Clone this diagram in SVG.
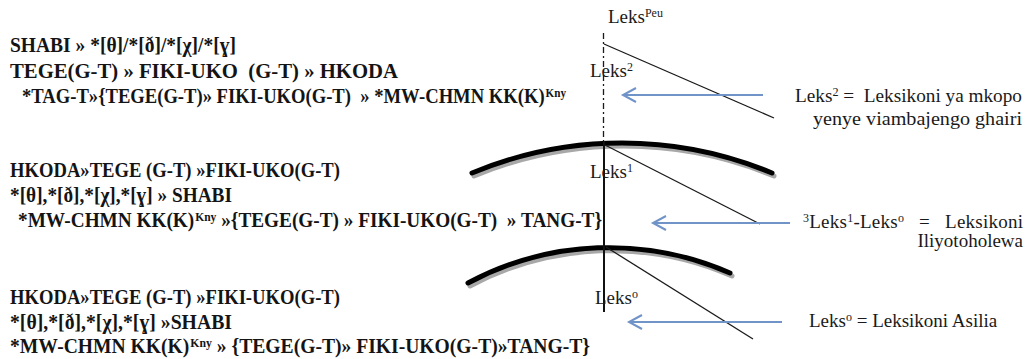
<svg xmlns="http://www.w3.org/2000/svg" width="1031" height="359" viewBox="0 0 1031 359">
  <defs>
    <style>
      text { font-family: 'Liberation Serif', 'Times New Roman', 'DejaVu Serif', serif; white-space: pre; }
      .rule { font-weight: bold; font-size: 20px; fill: #141414; }
      .lab { font-size: 19px; fill: #1a1a1a; }
      .sup { font-size: 12px; }
      .thin { stroke: #1a1a1a; stroke-width: 1.3; fill: none; }
      .arrow { stroke: #7093c8; stroke-width: 2; fill: none; }
      .arc { stroke: #000; stroke-width: 5; fill: none; stroke-linecap: round; }
      .arcshadow { stroke: #a8a8a8; stroke-width: 5; fill: none; stroke-linecap: round; }
    </style>
  </defs>
  <rect width="1031" height="359" fill="#fff"/>

  <!-- top rule block -->
  <g id="block-top">
    <text class="rule" x="10" y="52" textLength="226" lengthAdjust="spacingAndGlyphs">SHABI » *[θ]/*[ð]/*[χ]/*[ɣ]</text>
    <text class="rule" x="10" y="78" textLength="388" lengthAdjust="spacingAndGlyphs">TEGE(G-T) » FIKI-UKO  (G-T) » HKODA</text>
    <text class="rule" x="22" y="103" textLength="544" lengthAdjust="spacingAndGlyphs">*TAG-T»{TEGE(G-T)» FIKI-UKO(G-T)  » *MW-CHMN KK(K)<tspan class="sup" dx="1" baseline-shift="6">Kny</tspan></text>
  </g>

  <!-- middle rule block -->
  <g id="block-mid">
    <text class="rule" x="10" y="177" textLength="330" lengthAdjust="spacingAndGlyphs">HKODA»TEGE (G-T) »FIKI-UKO(G-T)</text>
    <text class="rule" x="10" y="202" textLength="222" lengthAdjust="spacingAndGlyphs">*[θ],*[ð],*[χ],*[ɣ] » SHABI</text>
    <text class="rule" x="18" y="227" textLength="584" lengthAdjust="spacingAndGlyphs">*MW-CHMN KK(K)<tspan class="sup" dx="1" baseline-shift="6">Kny</tspan> »{TEGE(G-T) » FIKI-UKO(G-T)  » TANG-T}</text>
  </g>

  <!-- bottom rule block -->
  <g id="block-bottom">
    <text class="rule" x="10" y="304" textLength="330" lengthAdjust="spacingAndGlyphs">HKODA»TEGE (G-T) »FIKI-UKO(G-T)</text>
    <text class="rule" x="10" y="329" textLength="222" lengthAdjust="spacingAndGlyphs">*[θ],*[ð],*[χ],*[ɣ] »SHABI</text>
    <text class="rule" x="10" y="353" textLength="580" lengthAdjust="spacingAndGlyphs">*MW-CHMN KK(K)<tspan class="sup" dx="1" baseline-shift="6">Kny</tspan> » {TEGE(G-T)» FIKI-UKO(G-T)»TANG-T}</text>
  </g>

  <!-- lexicon levels: arcs and axis -->
  <g id="levels">
    <path class="arcshadow" d="M 474 176 A 390 390 0 0 1 774 176"/>
    <path class="arc" d="M 472 173 A 390 390 0 0 1 772 173"/>
    <path class="arcshadow" d="M 470 286 A 300 300 0 0 1 732 276"/>
    <path class="arc" d="M 468 283 A 300 300 0 0 1 730 273"/>
    <line x1="603.5" y1="33" x2="603.5" y2="141" stroke="#1a1a1a" stroke-width="1.3" stroke-dasharray="6 3 2 3"/>
    <line x1="604" y1="141" x2="604" y2="312" stroke="#111" stroke-width="2"/>
  </g>

  <!-- level labels -->
  <g id="level-labels">
    <text class="lab" x="608" y="23">Leks<tspan class="sup" baseline-shift="6">Peu</tspan></text>
    <text class="lab" x="590" y="77">Leks<tspan class="sup" baseline-shift="6">2</tspan></text>
    <text class="lab" x="590" y="178">Leks<tspan class="sup" baseline-shift="6">1</tspan></text>
    <text class="lab" x="595" y="304">Leks<tspan class="sup" baseline-shift="6">o</tspan></text>
  </g>

  <!-- legend texts -->
  <g id="legend">
    <text class="lab" x="795" y="102" textLength="227" lengthAdjust="spacingAndGlyphs">Leks<tspan class="sup" baseline-shift="6">2</tspan> =  Leksikoni ya mkopo</text>
    <text class="lab" x="813" y="125" textLength="209" lengthAdjust="spacingAndGlyphs">yenye viambajengo ghairi</text>
    <text class="lab" x="803" y="228" textLength="220" lengthAdjust="spacing"><tspan class="sup" baseline-shift="6">3</tspan>Leks<tspan class="sup" baseline-shift="6">1</tspan>-Leks<tspan class="sup" baseline-shift="6">o</tspan>   =   Leksikoni</text>
    <text class="lab" x="1023" y="247" text-anchor="end">Iliyotoholewa</text>
    <text class="lab" x="809" y="327">Leks<tspan class="sup" baseline-shift="6">o</tspan> = Leksikoni Asilia</text>
  </g>

  <!-- connectors -->
  <g id="connectors">
    <line class="thin" x1="604" y1="44" x2="774" y2="118"/>
    <line class="thin" x1="605" y1="145" x2="760" y2="224"/>
    <line class="thin" x1="606" y1="247" x2="753" y2="339"/>
    <line class="arrow" x1="763" y1="95" x2="623" y2="95"/>
    <path class="arrow" d="M 636 88 L 623 95 L 636 102"/>
    <line class="arrow" x1="790" y1="223" x2="653" y2="223"/>
    <path class="arrow" d="M 666 216 L 653 223 L 666 230"/>
    <line class="arrow" x1="782" y1="322" x2="629" y2="322"/>
    <path class="arrow" d="M 642 315 L 629 322 L 642 329"/>
  </g>
</svg>
